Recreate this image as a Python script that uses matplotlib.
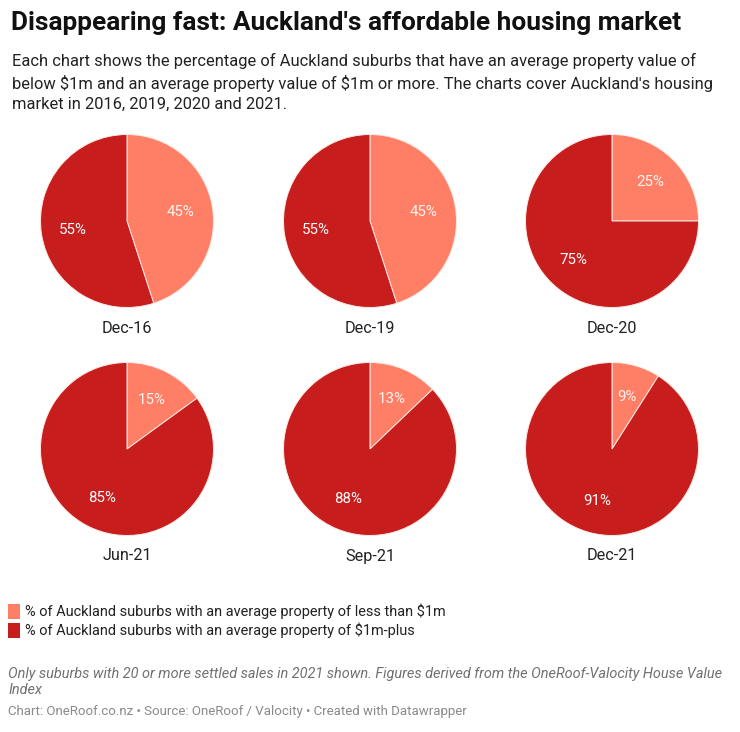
import matplotlib
matplotlib.use("Agg")
import matplotlib.pyplot as plt

W, H = 740, 732
DPI = 100

periods = ["Dec-16", "Dec-19", "Dec-20", "Jun-21", "Sep-21", "Dec-21"]
below_1m = [45, 45, 25, 15, 13, 9]
above_1m = [55, 55, 75, 85, 88, 91]
series_labels = [
    "% of Auckland suburbs with an average property of less than \\$1m",
    "% of Auckland suburbs with an average property of \\$1m-plus",
]
colors = ["#FF7F66", "#C71E1D"]

title = "Disappearing fast: Auckland's affordable housing market"
subtitle = ("Each chart shows the percentage of Auckland suburbs that have an average property value of\n"
            "below \\$1m and an average property value of \\$1m or more. The charts cover Auckland's housing\n"
            "market in 2016, 2019, 2020 and 2021.")
note = ("Only suburbs with 20 or more settled sales in 2021 shown. Figures derived from the OneRoof-Valocity House Value\n"
        "Index")
credit = "Chart: OneRoof.co.nz \u2022 Source: OneRoof / Valocity \u2022 Created with Datawrapper"

plt.rcParams['font.family'] = ['Roboto', 'DejaVu Sans']

fig = plt.figure(figsize=(W / DPI, H / DPI), dpi=DPI)
fig.patch.set_facecolor("white")


def fx(px):
    return px / W


def fy(py):
    return 1 - py / H


fig.text(fx(11), fy(23), title, fontsize=18.9, fontweight="bold", color="#111111",
         va="center", ha="left")
fig.text(fx(12), fy(53), subtitle, fontsize=11.9, color="#222222", va="top", ha="left",
         linespacing=1.42)

col_x = [127, 370, 612]
row_y = [221, 449]
R = 86.5

for i, name in enumerate(periods):
    cx = col_x[i % 3]
    cy = row_y[i // 3]
    ax = fig.add_axes([fx(cx - R), fy(cy + R), 2 * R / W, 2 * R / H])
    vals = [below_1m[i], above_1m[i]]
    wedges, texts, autotexts = ax.pie(
        vals, colors=colors, startangle=90, counterclock=False,
        autopct=lambda p: f"{p:.0f}%", pctdistance=0.63, radius=1.0,
        wedgeprops=dict(edgecolor="#ffe9e4", linewidth=0.7),
        textprops=dict(color="white", fontsize=10.8))
    for t, v in zip(autotexts, vals):
        t.set_text(f"{v}%")
    autotexts[0].set_color("#fff3ef")
    ax.set_xlim(-1.0, 1.0)
    ax.set_ylim(-1.0, 1.0)
    ax.set_aspect("equal")
    ax.axis("off")
    fig.text(fx(cx), fy(cy + 107), name, fontsize=11.7, color="#222222",
             ha="center", va="center")

# legend
for j, (lab, c) in enumerate(zip(series_labels, colors)):
    yc = 611 + j * 19.5
    fig.patches.append(plt.Rectangle((fx(8), fy(yc + 7.5)), 12 / W, 15 / H,
                                     transform=fig.transFigure, facecolor=c,
                                     edgecolor="none"))
    fig.text(fx(25), fy(yc), lab, fontsize=10.45, color="#222222", va="center", ha="left")

fig.text(fx(8), fy(667), note, fontsize=10.45, style="italic", color="#707070",
         va="top", ha="left", linespacing=1.2)
fig.text(fx(8), fy(712), credit, fontsize=9.5, color="#8a8a8a", va="center", ha="left")

fig.savefig("out.png", dpi=DPI, facecolor="white")
